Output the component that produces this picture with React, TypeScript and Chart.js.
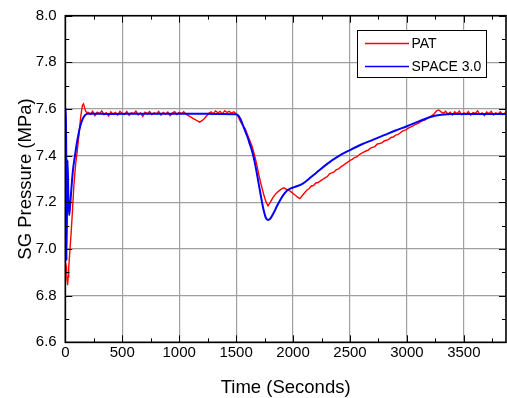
import React, { useEffect, useRef } from "react";
import { Chart, registerables } from "chart.js";
Chart.register(...registerables);

const seriesLabels = ["PAT", "SPACE 3.0"];
const seriesColors = ["#ff0000", "#0000ff"];
const xAxisTitle = "Time (Seconds)";
const yAxisTitle = "SG Pressure (MPa)";
const xRange = [0, 3870];
const xTickValues = [0, 500, 1000, 1500, 2000, 2500, 3000, 3500];
const xMinorTickValues = [250, 750, 1250, 1750, 2250, 2750, 3250, 3750];
const yRange = [6.6, 8.0];
const yTickValues = [6.6, 6.8, 7.0, 7.2, 7.4, 7.6, 7.8, 8.0];
const yMinorTickValues = [6.7, 6.9, 7.1, 7.3, 7.5, 7.7, 7.9];

const patTime = [
  0, 5, 10, 15, 20, 25, 30, 40, 50, 60, 75, 90, 105, 120, 135, 150, 160, 170, 180, 190, 200,
  220, 240, 260, 280, 300, 320, 340, 360, 380, 400, 420, 440, 460, 480, 500, 520, 540, 560, 580, 600,
  620, 640, 660, 680, 700, 720, 740, 760, 780, 800, 820, 840, 860, 880, 900, 920, 940, 960, 980, 1000,
  1020, 1040, 1060, 1080, 1100, 1120, 1140, 1160, 1180, 1200, 1220, 1240, 1260, 1280, 1300, 1320, 1340,
  1360, 1380, 1400, 1420, 1440, 1460, 1480, 1500, 1520, 1540, 1560, 1580, 1600, 1620, 1640, 1660, 1680,
  1700, 1720, 1740, 1760, 1780, 1800, 1820, 1840, 1860, 1880, 1900, 1920, 1940, 1960, 1980, 2000, 2020,
  2040, 2060, 2080, 2100, 2120, 2140, 2160, 2180, 2200, 2220, 2240, 2260, 2280, 2300, 2320, 2340, 2360,
  2380, 2400, 2420, 2440, 2460, 2480, 2500, 2520, 2540, 2560, 2580, 2600, 2620, 2640, 2660, 2680, 2700,
  2720, 2740, 2760, 2780, 2800, 2820, 2840, 2860, 2880, 2900, 2920, 2940, 2960, 2980, 3000, 3020, 3040,
  3060, 3080, 3100, 3120, 3140, 3160, 3180, 3200, 3220, 3240, 3260, 3280, 3300, 3320, 3340, 3360, 3380,
  3400, 3420, 3440, 3460, 3480, 3500, 3520, 3540, 3560, 3580, 3600, 3620, 3640, 3660, 3680, 3700, 3720,
  3740, 3760, 3780, 3800, 3820, 3840, 3860, 3880,
];
const patPressure = [
  6.94, 6.9, 6.93, 6.87, 6.845, 6.88, 6.92, 6.99, 7.06, 7.14, 7.27, 7.36, 7.42, 7.49, 7.565, 7.615, 7.622, 7.605, 7.59, 7.584, 7.586,
  7.578, 7.59, 7.572, 7.586, 7.58, 7.592, 7.576, 7.584, 7.57, 7.588, 7.579, 7.585, 7.574, 7.59, 7.581, 7.577, 7.589, 7.573, 7.584, 7.58,
  7.591, 7.575, 7.583, 7.568, 7.586, 7.58, 7.589, 7.576, 7.584, 7.579, 7.59, 7.574, 7.585, 7.578, 7.587, 7.572, 7.583, 7.589, 7.577, 7.586,
  7.58, 7.588, 7.578, 7.572, 7.566, 7.56, 7.555, 7.549, 7.544, 7.55, 7.558, 7.57, 7.582, 7.588, 7.58, 7.592, 7.584,
  7.59, 7.579, 7.593, 7.585, 7.59, 7.582, 7.588, 7.58, 7.565, 7.545, 7.53, 7.515, 7.49, 7.465, 7.44, 7.405, 7.365,
  7.318, 7.275, 7.238, 7.205, 7.185, 7.2, 7.218, 7.232, 7.242, 7.25, 7.258, 7.262, 7.256, 7.252, 7.246, 7.238, 7.23,
  7.222, 7.216, 7.228, 7.24, 7.252, 7.258, 7.27, 7.272, 7.283, 7.285, 7.292, 7.298, 7.305, 7.31, 7.322, 7.326, 7.33,
  7.34, 7.343, 7.352, 7.358, 7.366, 7.372, 7.38, 7.384, 7.392, 7.395, 7.404, 7.41, 7.415, 7.42, 7.424, 7.432, 7.436,
  7.44, 7.45, 7.452, 7.455, 7.463, 7.466, 7.47, 7.478, 7.48, 7.488, 7.49, 7.497, 7.505, 7.508, 7.514, 7.52, 7.524,
  7.53, 7.535, 7.538, 7.546, 7.55, 7.553, 7.562, 7.566, 7.572, 7.58, 7.592, 7.596, 7.588, 7.582, 7.59, 7.578, 7.586,
  7.575, 7.588, 7.58, 7.591, 7.576, 7.584, 7.579, 7.589, 7.574, 7.585, 7.581, 7.592, 7.577, 7.583, 7.572, 7.587, 7.58,
  7.59, 7.575, 7.584, 7.579, 7.588, 7.576, 7.583, 7.58,
];

const spaceTime = [
  0, 8, 10, 20, 27, 33, 40, 50, 60, 70, 85, 100, 115, 130, 150, 170, 190, 210, 400, 700, 1000, 1300,
  1480, 1500, 1520, 1540, 1560, 1580, 1600, 1620, 1640, 1660, 1680, 1700, 1720, 1740, 1760, 1780, 1800,
  1830, 1860, 1890, 1920, 1950, 1980, 2010, 2040, 2070, 2100, 2150, 2200, 2300, 2400, 2500, 2600, 2700,
  2800, 2900, 3000, 3100, 3200, 3300, 3400, 3600, 3880,
];
const spacePressure = [
  7.6, 7.6, 6.95, 7.38, 7.22, 7.145, 7.17, 7.235, 7.3, 7.35, 7.4, 7.45, 7.49, 7.525, 7.555, 7.572, 7.579, 7.58, 7.579, 7.58, 7.58, 7.579,
  7.578, 7.578, 7.572, 7.555, 7.53, 7.505, 7.48, 7.45, 7.42, 7.38, 7.33, 7.275, 7.22, 7.17, 7.135, 7.124, 7.13,
  7.155, 7.185, 7.212, 7.235, 7.252, 7.26, 7.265, 7.27, 7.276, 7.285, 7.305, 7.325, 7.365, 7.398, 7.424, 7.448, 7.468,
  7.488, 7.508, 7.526, 7.546, 7.565, 7.575, 7.579, 7.579, 7.579,
];

const FONT = "'Liberation Sans', Arial, Helvetica, sans-serif";

const framePlugin = {
  id: "originFrame",
  afterDatasetsDraw(chart: any) {
    const { ctx, chartArea: a, scales } = chart;
    const xs = scales.x;
    const ys = scales.y;
    ctx.save();
    ctx.strokeStyle = "#000";
    ctx.lineWidth = 1;
    ctx.beginPath();
    const major = 7;
    const minor = 4;
    const xTick = (v: number, len: number) => {
      const p = Math.round(xs.getPixelForValue(v)) + 0.5;
      ctx.moveTo(p, a.bottom); ctx.lineTo(p, a.bottom - len);
      ctx.moveTo(p, a.top); ctx.lineTo(p, a.top + len);
    };
    const yTick = (v: number, len: number) => {
      const p = Math.round(ys.getPixelForValue(v)) + 0.5;
      ctx.moveTo(a.left, p); ctx.lineTo(a.left + len, p);
      ctx.moveTo(a.right, p); ctx.lineTo(a.right - len, p);
    };
    xTickValues.forEach((v) => xTick(v, major));
    xMinorTickValues.forEach((v) => xTick(v, minor));
    yTickValues.forEach((v) => yTick(v, major));
    yMinorTickValues.forEach((v) => yTick(v, minor));
    ctx.stroke();
    ctx.lineWidth = 1.6;
    ctx.strokeRect(a.left, a.top, a.right - a.left, a.bottom - a.top);

    // legend
    const lx = 357.5, ly = 30.5, lw = 129, lh = 47;
    ctx.fillStyle = "#fff";
    ctx.fillRect(lx, ly, lw, lh);
    ctx.lineWidth = 1;
    ctx.strokeStyle = "#000";
    ctx.strokeRect(lx, ly, lw, lh);
    const rows = [43.5, 66.5];
    ctx.font = `14px ${FONT}`;
    ctx.textBaseline = "middle";
    ctx.textAlign = "left";
    seriesLabels.forEach((lab, i) => {
      ctx.strokeStyle = seriesColors[i];
      ctx.lineWidth = 1.5;
      ctx.beginPath();
      ctx.moveTo(365, rows[i]);
      ctx.lineTo(409, rows[i]);
      ctx.stroke();
      ctx.fillStyle = "#000";
      ctx.fillText(lab, 411.5, rows[i] + 1);
    });
    ctx.restore();
  },
};

export default function App() {
  const ref = useRef<HTMLCanvasElement | null>(null);
  useEffect(() => {
    if (!ref.current) return;
    const chart = new Chart(ref.current, {
      type: "line",
      data: {
        datasets: [
          {
            label: seriesLabels[0],
            data: patTime.map((t, i) => ({ x: t, y: patPressure[i] })),
            borderColor: seriesColors[0],
            borderWidth: 1.4,
            pointRadius: 0,
            tension: 0,
            order: 2,
          },
          {
            label: seriesLabels[1],
            data: spaceTime.map((t, i) => ({ x: t, y: spacePressure[i] })),
            borderColor: seriesColors[1],
            borderWidth: 2,
            pointRadius: 0,
            tension: 0.3,
            cubicInterpolationMode: "monotone",
            order: 1,
          },
        ],
      },
      options: {
        animation: false,
        responsive: false,
        devicePixelRatio: 1,
        layout: { padding: { left: 0, top: 15.7, right: 1, bottom: 0 } },
        plugins: { legend: { display: false }, tooltip: { enabled: false } },
        scales: {
          x: {
            type: "linear",
            min: xRange[0],
            max: xRange[1],
            afterBuildTicks: (s: any) => { s.ticks = xTickValues.map((v) => ({ value: v })); },
            afterFit: (s: any) => { s.height = 55.7; s.paddingLeft = 0; s.paddingRight = 0; },
            grid: { color: "#a0a0a0", lineWidth: 1.2, drawTicks: false },
            border: { display: false },
            ticks: {
              autoSkip: false,
              maxRotation: 0,
              padding: 2,
              color: "#000",
              font: { size: 15, family: FONT },
              callback: (v: any) => String(v),
            },
            title: {
              display: true,
              text: xAxisTitle,
              color: "#000",
              font: { size: 18.5, family: FONT },
              padding: { top: 0, bottom: -1.5 },
            },
          },
          y: {
            type: "linear",
            min: yRange[0],
            max: yRange[1],
            afterBuildTicks: (s: any) => { s.ticks = yTickValues.map((v) => ({ value: v })); },
            afterFit: (s: any) => { s.width = 65.3; s.paddingTop = 0; s.paddingBottom = 0; },
            grid: { color: "#a0a0a0", lineWidth: 1.2, drawTicks: false },
            border: { display: false },
            ticks: {
              autoSkip: false,
              padding: 8.6,
              color: "#000",
              font: { size: 15, family: FONT },
              callback: (v: any) => Number(v).toFixed(1),
            },
            title: {
              display: true,
              text: yAxisTitle,
              color: "#000",
              font: { size: 18.5, family: FONT },
              padding: { top: 15, bottom: 0 },
            },
          },
        },
      },
      plugins: [framePlugin],
    });
    return () => chart.destroy();
  }, []);
  return (
    <div style={{ position: "absolute", left: 0, top: 0, width: 507, height: 398, background: "#fff" }}>
      <canvas ref={ref} width={507} height={398} style={{ display: "block", width: 507, height: 398 }} />
    </div>
  );
}
